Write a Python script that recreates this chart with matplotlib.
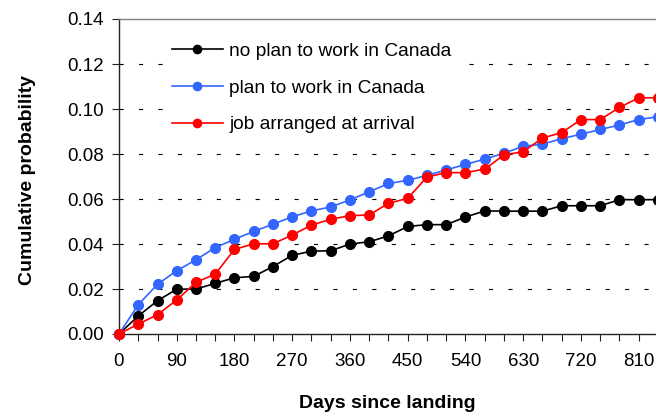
import matplotlib
matplotlib.use("Agg")
import matplotlib.pyplot as plt
from matplotlib.ticker import MultipleLocator, FormatStrFormatter

plt.rcParams['font.family'] = ['Liberation Sans', 'DejaVu Sans']
plt.rcParams['lines.scale_dashes'] = False

days = [0, 30, 60, 90, 120, 150, 180, 210, 240, 270, 300, 330, 360, 390, 420,
        450, 480, 510, 540, 570, 600, 630, 660, 690, 720, 750, 780, 810, 840]

no_plan = [0.0, 0.008, 0.0148, 0.0199, 0.0200, 0.0225, 0.0250, 0.0256, 0.0300,
           0.0350, 0.0368, 0.0370, 0.0400, 0.0410, 0.0436, 0.0478, 0.0486, 0.0486,
           0.0520, 0.0547, 0.0546, 0.0546, 0.0546, 0.0570, 0.0570, 0.0570, 0.0597,
           0.0597, 0.0597]

plan = [0.0, 0.0130, 0.0221, 0.0281, 0.0330, 0.0384, 0.0421, 0.0456, 0.0488,
        0.0521, 0.0547, 0.0565, 0.0596, 0.0632, 0.0669, 0.0683, 0.0705, 0.0729,
        0.0754, 0.0777, 0.0804, 0.0834, 0.0844, 0.0868, 0.0888, 0.0909, 0.0929,
        0.0953, 0.0966]

job = [0.0, 0.0044, 0.0086, 0.0151, 0.0230, 0.0266, 0.0376, 0.0401, 0.0401,
       0.0440, 0.0484, 0.0510, 0.0526, 0.0529, 0.0581, 0.0603, 0.0698, 0.0717,
       0.0717, 0.0733, 0.0796, 0.0810, 0.0871, 0.0895, 0.0953, 0.0953, 0.1007,
       0.1050, 0.1050]

labels = ["no plan to work in Canada", "plan to work in Canada", "job arranged at arrival"]
colors = ["#000000", "#3366FF", "#FF0000"]

W, H = 656, 415
fig = plt.figure(figsize=(W / 100, H / 100), dpi=100)
x0, x1 = 119, 119 + 870 / 30 * 19.25
y0, y1 = 334, 19
ax = fig.add_axes([x0 / W, 1 - y0 / H, (x1 - x0) / W, (y0 - y1) / H])

for series, lab, c, z in zip([no_plan, plan, job], labels, colors, [3, 4, 5]):
    ax.plot(days, series, color=c, lw=1.2, marker='o', ms=7, mec=c, mfc=c,
            label=lab, zorder=z, clip_on=False)

ax.set_xlim(0, 870)
ax.set_ylim(0, 0.14)
ax.xaxis.set_major_locator(MultipleLocator(90))
ax.xaxis.set_minor_locator(MultipleLocator(30))
ax.yaxis.set_major_locator(MultipleLocator(0.02))
ax.yaxis.set_major_formatter(FormatStrFormatter('%.2f'))

for yv in [0.02, 0.04, 0.06, 0.08, 0.10, 0.12]:
    ax.axhline(yv, color='black', lw=0.8, linestyle=(0, (3, 11)), zorder=1)

ax.spines['right'].set_visible(False)
ax.spines['top'].set_color('#808080')
ax.spines['top'].set_linewidth(1.0)
for s in ['left', 'bottom']:
    ax.spines[s].set_color('#222222')
    ax.spines[s].set_linewidth(1.0)

ax.tick_params(axis='both', which='both', direction='out', length=5, width=0.8,
               color='#222222', labelsize=13.5)
ax.tick_params(axis='x', which='major', pad=9)
ax.tick_params(axis='y', which='major', pad=6)

ax.set_xlabel("Days since landing", fontsize=14, fontweight='bold')
ax.set_ylabel("Cumulative probability", fontsize=14, fontweight='bold')
axw = x1 - x0
axh = y0 - y1
ax.xaxis.set_label_coords((387 - x0) / axw, (y0 - 404) / axh)
ax.xaxis.label.set_va('center')
ax.yaxis.set_label_coords((27 - x0) / axw, (y0 - 180) / axh)
ax.yaxis.label.set_va('center')
ax.yaxis.label.set_ha('center')
ax.yaxis.label.set_rotation_mode('default')

leg = ax.legend(loc='upper left', bbox_to_anchor=(165 / W, 1 - 36 / H),
                bbox_transform=fig.transFigure, fontsize=13.8, frameon=True,
                fancybox=False, edgecolor='none', facecolor='white', framealpha=1,
                handlelength=2.65, handletextpad=0.35, labelspacing=1.0,
                borderpad=0.35, borderaxespad=0, markerscale=0.85)
leg.set_zorder(6)

fig.savefig("out.png", dpi=100)
